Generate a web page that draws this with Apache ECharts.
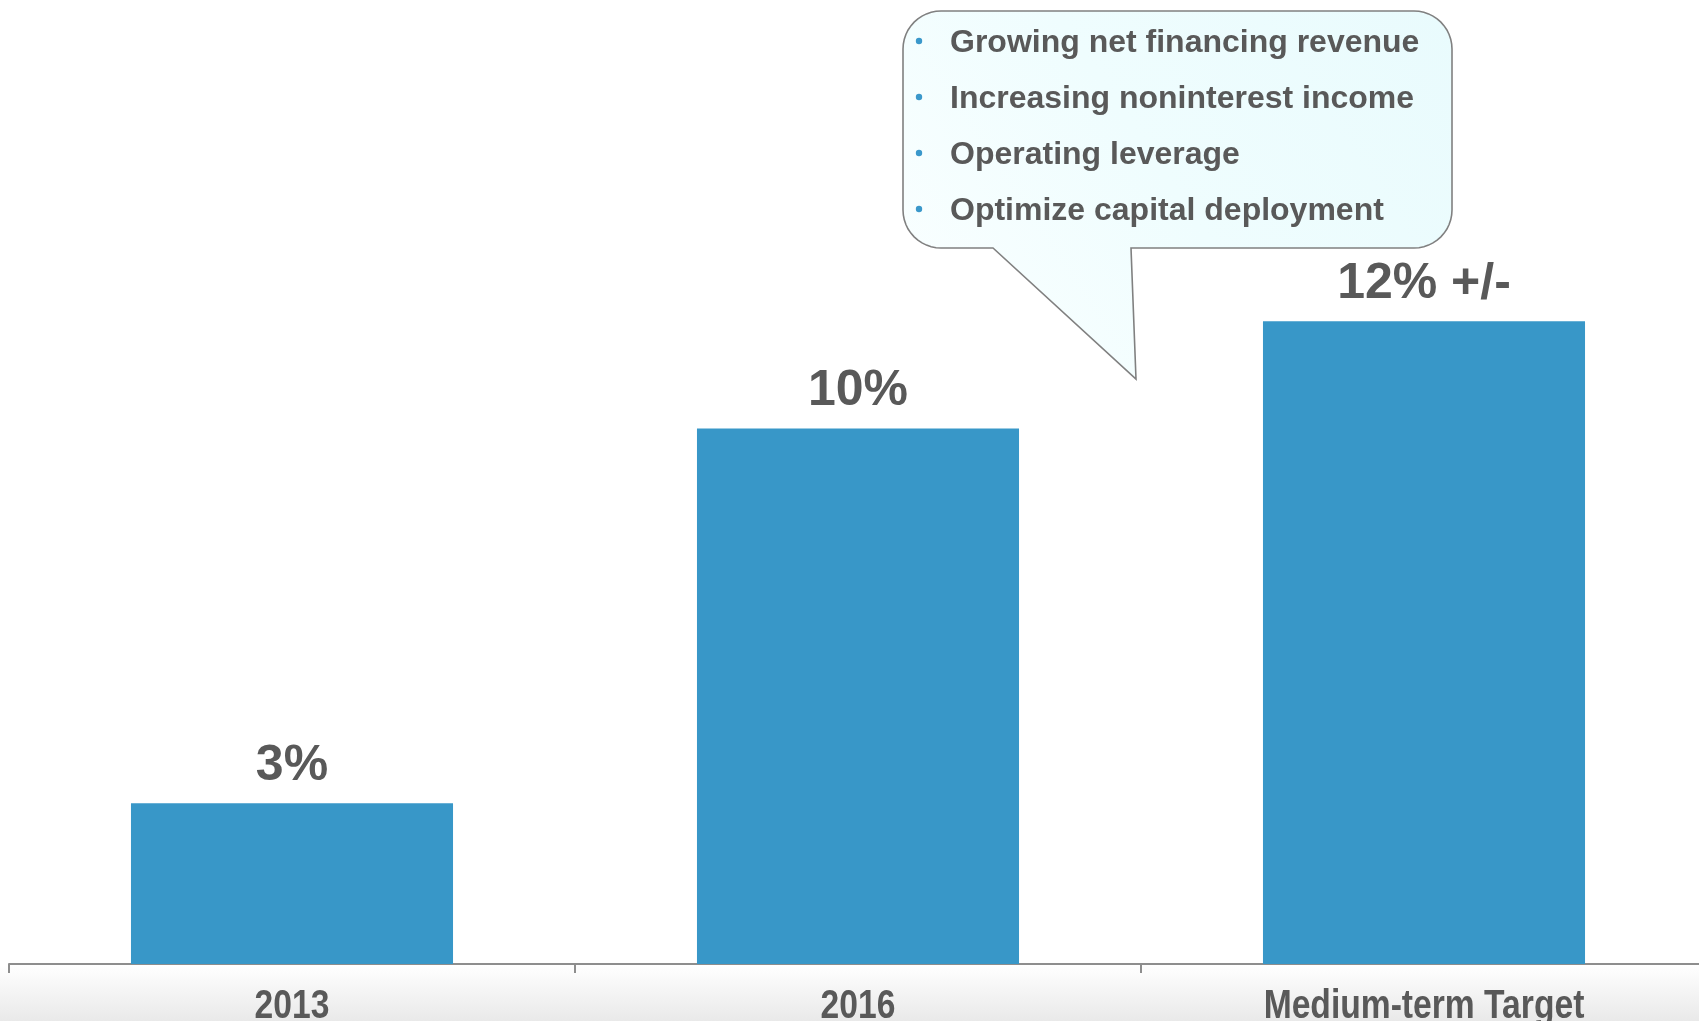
<!DOCTYPE html>
<html>
<head>
<meta charset="utf-8">
<script src="https://cdn.jsdelivr.net/npm/echarts@6/dist/echarts.min.js"></script>
<style>
  html, body { margin: 0; padding: 0; background: #ffffff; overflow: hidden; }
  /* the last category runs slightly past the right edge of the view */
  #chart { width: 1730px; height: 1021px; }
</style>
</head>
<body>
<div id="chart"></div>
<script>
// Return on tangible common equity: actual years and the medium-term goal
const categories = ['2013', '2016', 'Medium-term Target'];
const values = [3, 10, 12];
const valueLabels = ['3%', '10%', '12% +/-'];

// Drivers listed in the callout
const drivers = [
  'Growing net financing revenue',
  'Increasing noninterest income',
  'Operating leverage',
  'Optimize capital deployment'
];

const chart = echarts.init(document.getElementById('chart'), null, { renderer: 'canvas' });

const textGray = '#595959';
const barBlue = '#3897c8';
const axisGray = '#8e8e8e';

// Outline of the speech bubble: rounded box plus a pointer toward the target bar
function bubbleOutline(x0, y0, x1, y1, r, baseL, baseR, tipX, tipY) {
  const pts = [];
  function corner(cx, cy, a0, a1) {
    const n = 12;
    for (let k = 0; k <= n; k++) {
      const a = a0 + (a1 - a0) * k / n;
      pts.push([cx + r * Math.cos(a), cy + r * Math.sin(a)]);
    }
  }
  corner(x0 + r, y0 + r, Math.PI, Math.PI * 1.5);      // top-left
  corner(x1 - r, y0 + r, Math.PI * 1.5, Math.PI * 2);  // top-right
  corner(x1 - r, y1 - r, 0, Math.PI * 0.5);            // bottom-right
  pts.push([baseR, y1]);
  pts.push([tipX, tipY]);
  pts.push([baseL, y1]);
  corner(x0 + r, y1 - r, Math.PI * 0.5, Math.PI);      // bottom-left
  return pts;
}

const graphics = [
  {
    type: 'rect',
    z: -10,
    silent: true,
    shape: { x: 0, y: 965, width: 1730, height: 56 },
    style: {
      fill: new echarts.graphic.LinearGradient(0, 0, 0, 1, [
        { offset: 0, color: '#ffffff' },
        { offset: 1, color: '#e9e9e9' }
      ])
    }
  },
  {
    type: 'polygon',
    z: 10,
    shape: { points: bubbleOutline(903, 11, 1452, 248, 38, 993, 1131, 1136, 379) },
    style: {
      fill: new echarts.graphic.LinearGradient(0, 1, 1, 0, [
        { offset: 0, color: '#fbffff' },
        { offset: 0.5, color: '#effdfe' },
        { offset: 1, color: '#e9fbfd' }
      ]),
      stroke: '#808080',
      lineWidth: 1.6
    }
  }
];

drivers.forEach(function (line, i) {
  const y = 43 + i * 56;
  graphics.push({
    type: 'circle',
    z: 11,
    shape: { cx: 919, cy: y - 2, r: 3.2 },
    style: { fill: '#3a98cb' }
  });
  graphics.push({
    type: 'text',
    z: 11,
    x: 950,
    y: y,
    style: {
      text: line,
      fill: textGray,
      font: 'bold 32px "Liberation Sans", Arial, sans-serif',
      verticalAlign: 'middle'
    }
  });
});

chart.setOption({
  animation: false,
  backgroundColor: '#ffffff',
  grid: { left: 9, width: 1698, top: 0, bottom: 57 },
  xAxis: {
    type: 'category',
    data: categories,
    boundaryGap: true,
    axisLine: { lineStyle: { color: axisGray, width: 2 } },
    axisTick: { show: true, length: 9, lineStyle: { color: axisGray, width: 2 } },
    // category names are drawn below as condensed text
    axisLabel: { show: false }
  },
  yAxis: {
    type: 'value',
    min: 0,
    max: 18,
    show: false,
    splitLine: { show: false }
  },
  series: [
    {
      type: 'bar',
      data: values,
      barWidth: '56.9%',
      itemStyle: { color: barBlue },
      label: {
        show: true,
        position: 'top',
        distance: 12,
        color: textGray,
        fontSize: 50,
        fontWeight: 'bold',
        fontFamily: '"Liberation Sans", Arial, sans-serif',
        formatter: function (p) { return valueLabels[p.dataIndex]; }
      }
    }
  ],
  graphic: graphics
});

// Condensed category names, centred under each category of the x axis
const axisY = chart.convertToPixel({ yAxisIndex: 0 }, 0);
const nameGraphics = categories.map(function (name) {
  const cx = chart.convertToPixel({ xAxisIndex: 0 }, name);
  return {
    type: 'text',
    z: 5,
    x: cx,
    y: axisY + 22,
    scaleX: 0.82,
    style: {
      text: name,
      fill: textGray,
      font: 'bold 41px "Liberation Sans", Arial, sans-serif',
      align: 'center',
      verticalAlign: 'top'
    }
  };
});
chart.setOption({ graphic: graphics.concat(nameGraphics) });
</script>
</body>
</html>
